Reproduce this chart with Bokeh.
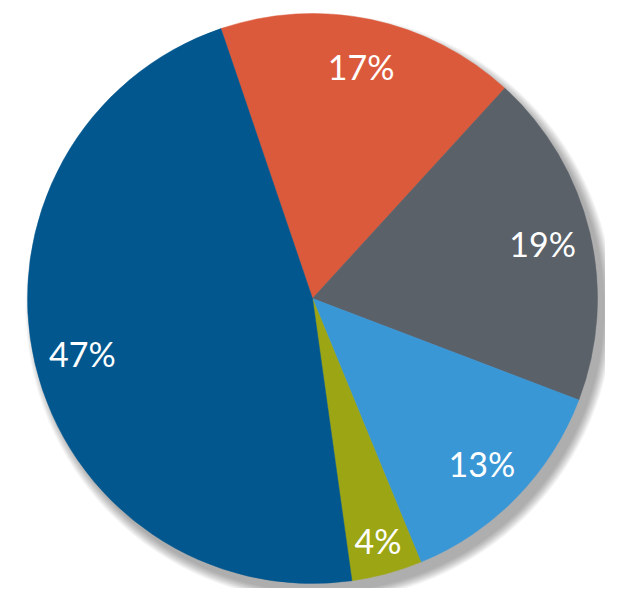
import math
from bokeh.plotting import figure
from bokeh.models import ColumnDataSource, Range1d
from bokeh.core.properties import value
from bokeh.embed import file_html
from bokeh.resources import INLINE

labels = ["17%", "19%", "13%", "4%", "47%"]
shares = [17, 19, 13, 4, 47]
colors = ["#DC5A3C", "#5A6169", "#3A97D6", "#9CA614", "#02578F"]
start_deg = -18.75  # clockwise from 12 o'clock

W, H = 605, 588
cx, cy, R = 312, 290, 285

p = figure(width=W, height=H, output_backend="svg", toolbar_location=None,
           x_range=Range1d(0, W), y_range=Range1d(0, H), min_border=0)
p.axis.visible = False
p.grid.visible = False
p.outline_line_color = None
p.background_fill_color = "white"

# soft drop shadow
for k in range(10):
    p.circle(x=[cx + 7], y=[cy - 9], radius=R + 9 - k, fill_color="#000000",
             fill_alpha=0.035, line_color=None)

total = sum(shares)
starts, ends, lx, ly = [], [], [], []
acc = start_deg
for s in shares:
    a0 = acc
    a1 = acc + 360 * s / total
    acc = a1
    starts.append(math.radians(90 - a0))
    ends.append(math.radians(90 - a1))
    mid = math.radians(90 - (a0 + a1) / 2)
    r = 0.83 * R if s > 5 else 0.88 * R
    lx.append(cx + r * math.cos(mid))
    ly.append(cy + r * math.sin(mid))

src = ColumnDataSource(dict(start=starts, end=ends, color=colors))
p.wedge(x=cx, y=cy, radius=R, start_angle="start", end_angle="end",
        direction="clock", fill_color="color", line_color="color", line_width=0.5,
        source=src)

tsrc = ColumnDataSource(dict(x=lx, y=ly, t=labels))
p.text(x="x", y="y", text="t", source=tsrc, text_color="white",
       text_font=value("Lato"), text_font_size="34px",
       text_align="center", text_baseline="middle")

open("out.html", "w").write(file_html(p, INLINE))
